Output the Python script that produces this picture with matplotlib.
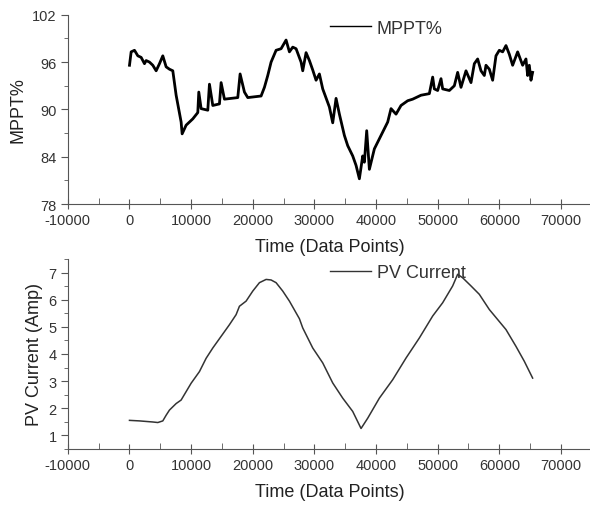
import matplotlib
matplotlib.use("Agg")
import matplotlib.pyplot as plt
from matplotlib.ticker import MultipleLocator

plt.rcParams['font.family'] = ['Liberation Sans', 'DejaVu Sans']
plt.rcParams['axes.unicode_minus'] = False

# MPPT%
mppt_t = [0, 270, 811, 1351, 1892, 2432, 2703, 3243, 3784, 4324, 4865, 5405,
          5946, 6486, 7027, 7568, 8378, 8541, 9189, 10270, 11081, 11243, 11622,
          12703, 12973, 13514, 14595, 14865, 15405, 17568, 17946, 18649, 19189,
          21351, 21892, 22432, 22973, 23784, 24595, 25405, 25946, 26486, 27027,
          27838, 28108, 28649, 29189, 29730, 30270, 30811, 31351, 32432, 32973,
          33514, 34054, 34865, 35405, 36216, 36757, 37297, 37838, 38108, 38486,
          38919, 39730, 40811, 41892, 42432, 43243, 44054, 45135, 45946, 47297,
          48649, 49189, 49459, 50000, 50541, 50811, 51892, 52703, 53243, 53784,
          54595, 55405, 55946, 56486, 57027, 57568, 57838, 58378, 58919, 59459,
          60000, 60541, 61081, 61622, 62162, 62973, 63784, 64324, 64595, 64865,
          65135, 65405]
mppt_v = [95.6, 97.3, 97.5, 96.8, 96.6, 95.8, 96.2, 96.0, 95.6, 94.9, 95.8, 96.8,
          95.4, 95.1, 94.9, 91.8, 88.4, 86.9, 88.0, 88.8, 89.6, 92.2, 90.1,
          89.9, 93.2, 90.5, 90.7, 93.4, 91.3, 91.5, 94.5, 92.2, 91.5,
          91.7, 92.8, 94.3, 96.0, 97.5, 97.7, 98.8, 97.3, 97.9, 97.7,
          96.0, 94.9, 97.2, 96.2, 95.0, 93.7, 94.5, 92.6, 90.3, 88.3,
          91.4, 89.4, 86.7, 85.4, 84.1, 82.9, 81.2, 84.1, 83.3, 87.3,
          82.4, 85.0, 86.7, 88.4, 90.1, 89.4, 90.5, 91.1, 91.3, 91.8,
          92.0, 94.1, 92.6, 92.4, 93.9, 92.6, 92.4, 93.0, 94.7, 92.8,
          94.9, 93.4, 95.8, 96.4, 94.9, 94.3, 95.6, 95.1, 93.7, 96.8,
          97.5, 97.3, 98.1, 97.0, 95.6, 97.3, 95.6, 96.4, 94.3, 95.6,
          93.7, 94.7]

# Courant PV
pv_t = [0, 1622, 3784, 4595, 5405, 5946, 6486, 7568, 8378, 9189, 10000, 11351,
        12432, 13514, 14865, 16216, 17297, 17838, 18919, 20000, 21081, 22162,
        22973, 23784, 24865, 25946, 27568, 28108, 29730, 31351, 32973, 34595,
        36216, 37568, 38649, 40541, 42703, 44865, 47027, 49189, 50811, 52432,
        53243, 54054, 55405, 56757, 58378, 59730, 61081, 62703, 64054, 65405]
pv_v = [1.55, 1.53, 1.49, 1.47, 1.53, 1.74, 1.93, 2.17, 2.30, 2.61, 2.92, 3.35,
        3.84, 4.22, 4.65, 5.08, 5.45, 5.76, 5.95, 6.32, 6.63, 6.75,
        6.73, 6.63, 6.32, 5.95, 5.30, 4.96, 4.22, 3.67, 2.93, 2.37,
        1.88, 1.25, 1.63, 2.37, 3.05, 3.85, 4.59, 5.40, 5.89, 6.51,
        6.94, 6.81, 6.51, 6.20, 5.64, 5.27, 4.90, 4.28, 3.73, 3.11]

fig = plt.figure(figsize=(5.9, 5.1), dpi=100)
ax1 = fig.add_axes([0.115, 0.598, 0.888, 0.371])
ax2 = fig.add_axes([0.115, 0.118, 0.888, 0.372])

ax1.plot(mppt_t, mppt_v, color='black', lw=2.0, label='MPPT%')
ax2.plot(pv_t, pv_v, color='#333333', lw=1.1, label='PV Current')

ax1.set_ylim(78, 102)
ax1.yaxis.set_major_locator(MultipleLocator(6))
ax1.yaxis.set_minor_locator(MultipleLocator(3))
ax1.set_ylabel('MPPT%', fontsize=13, color='#222222')

ax2.set_ylim(0.5, 7.5)
ax2.yaxis.set_major_locator(MultipleLocator(1))
ax2.yaxis.set_minor_locator(MultipleLocator(0.5))
ax2.set_ylabel('PV Current (Amp)', fontsize=13, color='#222222')

for ax in (ax1, ax2):
    ax.set_xlim(-10000, 75000)
    ax.xaxis.set_major_locator(MultipleLocator(10000))
    ax.xaxis.set_minor_locator(MultipleLocator(5000))
    ax.set_xlabel('Time (Data Points)', fontsize=13, color='#222222', labelpad=8)
    ax.spines['top'].set_visible(False)
    ax.spines['right'].set_visible(False)
    ax.spines['left'].set_color('#555555')
    ax.spines['bottom'].set_color('#555555')
    ax.tick_params(axis='x', which='major', direction='inout', length=7,
                   labelsize=10.5, colors='#555555', labelcolor='#333333', pad=3)
    ax.tick_params(axis='x', which='minor', direction='in', length=4, colors='#555555')
    ax.tick_params(axis='y', which='major', direction='out', length=5,
                   labelsize=10.5, colors='#555555', labelcolor='#333333', pad=3)
    ax.tick_params(axis='y', which='minor', direction='out', length=3, colors='#555555')
    leg = ax.legend(loc='upper left', bbox_to_anchor=(0.5, 0.975), frameon=False,
                    fontsize=13, handlelength=2.3, handletextpad=0.3,
                    borderpad=0, borderaxespad=0, labelcolor='#333333')
    leg.get_lines()[0].set_linewidth(1.0)

plt.savefig('out.png', dpi=100)
